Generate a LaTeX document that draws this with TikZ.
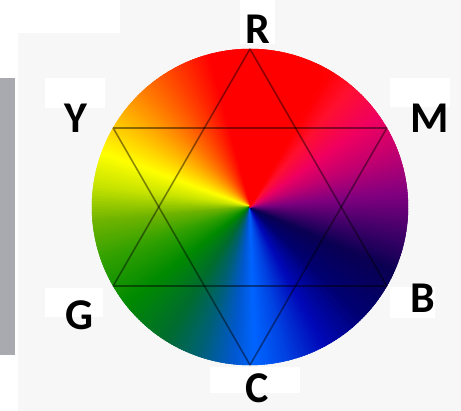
\documentclass[tikz,border=0pt]{standalone}
\usepackage{fontspec}
\setmainfont{Carlito}
\usepackage{xcolor}
\usetikzlibrary{positioning}

\definecolor{paper}{HTML}{F7F7F7}
\definecolor{strip}{HTML}{A9AAB0}
\definecolor{wRed}{HTML}{FF0000}
\definecolor{wOrange}{HTML}{FF7000}
\definecolor{wAmber}{HTML}{FFD000}
\definecolor{wYellow}{HTML}{FFFF00}
\definecolor{wLime}{HTML}{C8E400}
\definecolor{wYgreen}{HTML}{70B400}
\definecolor{wGrass}{HTML}{30A000}
\definecolor{wGreen}{HTML}{008A00}
\definecolor{wDkgreen}{HTML}{006C30}
\definecolor{wTeal}{HTML}{006078}
\definecolor{wAzure}{HTML}{0058D0}
\definecolor{wBlue}{HTML}{0064FF}
\definecolor{wMblue}{HTML}{0040E0}
\definecolor{wRoyal}{HTML}{0008B8}
\definecolor{wNavy}{HTML}{000070}
\definecolor{wDknavy}{HTML}{0A0052}
\definecolor{wIndigo}{HTML}{400068}
\definecolor{wPurple}{HTML}{800080}
\definecolor{wMagenta}{HTML}{C00070}
\definecolor{wPink}{HTML}{F00060}
\definecolor{wCrimson}{HTML}{FF1030}

\begin{document}
\begin{tikzpicture}[
  x=0.02cm, y=0.02cm,
  letter/.style={font=\fontsize{25}{30}\selectfont\bfseries, inner sep=0pt},
  starline/.style={black, opacity=0.45, line width=0.9pt, line join=round}
]
\useasboundingbox (0,0) rectangle (461,411);
\fill[paper] (0,0) rectangle (461,411);
\fill[white] (0,378) rectangle (120,411);
\fill[white] (0,0) rectangle (18,378);
\fill[strip] (0,56) rectangle (15,333);
% white patches behind the letters
\foreach \xa/\ya/\xb/\yb in {45/303/105/333, 390/304/450/333, 45/94/103/123,
    390/93/435/124, 210/18/300/44, 240/367/275/411}
  \fill[white] (\xa,\ya) rectangle (\xb,\yb);

% colour wheel
\coordinate (ctr) at (250,204);
\foreach \angA/\colA/\angB/\colB in {60/wRed/105/wRed, 105/wRed/130/wOrange,
    130/wOrange/150/wAmber, 150/wAmber/160/wYellow, 160/wYellow/172/wLime,
    172/wLime/185/wYgreen, 185/wYgreen/200/wGrass, 200/wGrass/218/wGreen,
    218/wGreen/238/wDkgreen, 238/wDkgreen/252/wTeal, 252/wTeal/264/wAzure,
    264/wAzure/272/wBlue, 272/wBlue/284/wMblue, 284/wMblue/298/wRoyal,
    298/wRoyal/316/wNavy, 316/wNavy/336/wDknavy, 336/wDknavy/350/wIndigo,
    350/wIndigo/365/wPurple, 365/wPurple/380/wMagenta, 380/wMagenta/395/wPink,
    395/wPink/410/wCrimson, 410/wCrimson/420/wRed}{
  \pgfmathtruncatemacro\nsteps{\angB-\angA}
  \foreach \k in {1,...,\nsteps}{
    \pgfmathtruncatemacro\pct{100*(\k-0.5)/\nsteps}
    \pgfmathsetmacro\wa{\angA+\k-1}
    \pgfmathsetmacro\wb{\angA+\k+0.5}
    \filldraw[fill={\colB!\pct!\colA}, draw={\colB!\pct!\colA}, line width=0.3pt,
      line join=round] (ctr) -- ++(\wa:3.16cm)
      arc[start angle=\wa, end angle=\wb, radius=3.16cm] -- cycle;
  }
}

% star
\foreach \name/\ang in {R/90, M/30, B/-30, C/-90, G/210, Y/150}
  \path (ctr) ++(\ang:3.16cm) coordinate (\name);
\draw[starline] (R) -- (G) -- (B) -- cycle;
\draw[starline] (Y) -- (M) -- (C) -- cycle;

\node[letter] (lR) at (258,382) {R};
\node[letter] (lM) at (430,293) {M};
\node[letter] (lB) at (423,113) {B};
\node[letter] (lC) at (257,23) {C};
\node[letter] (lG) at (79,96) {G};
\node[letter] (lY) at (76,293) {Y};
\end{tikzpicture}
\end{document}
